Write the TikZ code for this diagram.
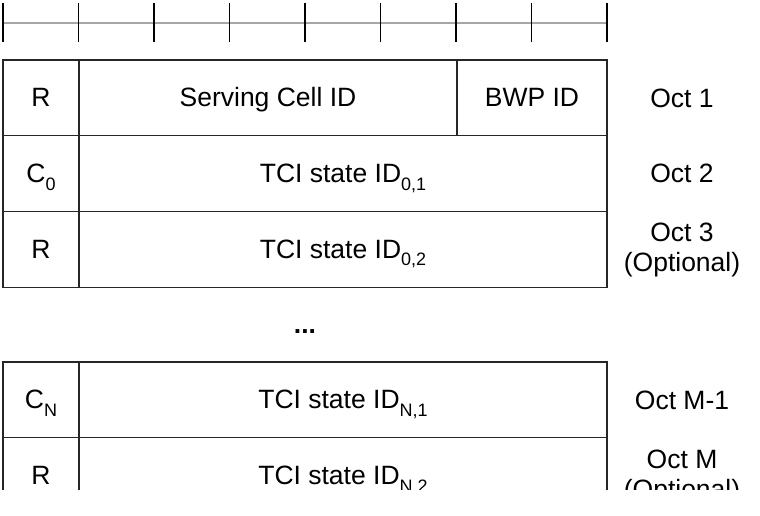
\documentclass[tikz,border=0pt]{standalone}
\usepackage{fontspec}
\setmainfont{Liberation Sans}
\usetikzlibrary{positioning}
\newcommand{\lowsub}[1]{\raisebox{-0.3em}{\fontsize{18}{18}\selectfont #1}}

\begin{document}
\begin{tikzpicture}[x=1pt,y=-1pt,node distance=0pt,
    cell/.style={draw=black!85, line width=1.2pt, inner sep=0pt, outer sep=0pt,
      minimum height=75.8pt, text height=23pt, text depth=6pt,
      font=\fontsize{26.5}{31}\selectfont},
    octlabel/.style={align=center, inner sep=0pt, font=\fontsize{26.5}{30}\selectfont}]
            \def\W{75.5}
            \useasboundingbox (0,0) rectangle (760,516);
            \clip (0,0) rectangle (760,489);

            % bit ruler
            \draw[gray!70, line width=1.5pt] (3,23) -- (607,23);
            \foreach \i in {0,...,8}
                \draw[line width=1.8pt] (3+\i*\W,3) -- (3+\i*\W,42);

            % octet 1
            \node[cell, minimum width=76pt, anchor=north west] (r1) at (3,60) {R};
            \node[cell, minimum width=378pt, right=of r1] (servcell) {Serving Cell ID};
            \node[cell, minimum width=150pt, right=of servcell] (bwp) {BWP ID};

            % octets 2 and 3
            \node[cell, minimum width=76pt, below=of r1] (c0) {C\lowsub{0}};
            \node[cell, minimum width=528pt, right=of c0] (tci01) {TCI state ID\lowsub{0,1}};
            \node[cell, minimum width=76pt, below=of c0] (r2) {R};
            \node[cell, minimum width=528pt, right=of r2] (tci02) {TCI state ID\lowsub{0,2}};

            \node[font=\bfseries\fontsize{26.5}{30}\selectfont] (dots) at (305,332) {...};

            % octets M-1 and M
            \node[cell, minimum width=76pt, anchor=north west] (cn) at (3,362) {C\lowsub{N}};
            \node[cell, minimum width=528pt, right=of cn] (tcin1) {TCI state ID\lowsub{N,1}};
            \node[cell, minimum width=76pt, below=of cn] (r3) {R};
            \node[cell, minimum width=528pt, right=of r3] (tcin2) {TCI state ID\lowsub{N,2}};

            % octet labels
            \node[octlabel] (oct1) at (682,98) {Oct 1};
            \node[octlabel] (oct2) at (682,173) {Oct 2};
            \node[octlabel] (oct3) at (682,250) {Oct 3\\(Optional)};
            \node[octlabel] (octm1) at (682,400) {Oct M-1};
            \node[octlabel] (octm) at (682,477) {Oct M\\(Optional)};
\end{tikzpicture}
\end{document}
